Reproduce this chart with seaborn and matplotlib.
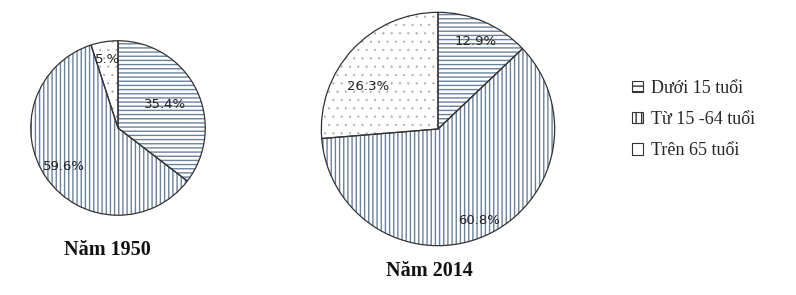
import numpy as np
import matplotlib
matplotlib.use("Agg")
import matplotlib.pyplot as plt
import matplotlib.patches as mpatches
import seaborn as sns

sns.set_theme(style="white")
plt.rcParams['font.family'] = ['DejaVu Sans']
plt.rcParams['hatch.linewidth'] = 1.0

categories = ["Dưới 15 tuổi", "Từ 15 -64 tuổi", "Trên 65 tuổi"]
values_1950 = [35.4, 59.6, 5.0]
values_2014 = [12.9, 60.8, 26.3]
labels_1950 = ["35.4%", "59.6%", "5.%"]
labels_2014 = ["12.9%", "60.8%", "26.3%"]
titles = ["Năm 1950", "Năm 2014"]

hatches = ['----', '||||', '..']
hatch_colors = ['#6a819e', '#6a819e', '#a8a8a8']
hatch_lws = [1.0, 1.0, 0.3]
label_r_1950 = [0.6, 0.76, 0.8]
label_off_1950 = [0, 0, 0]
label_r_2014 = [0.82, 0.86, 0.7]
label_off_2014 = [0, 0, 11]

fig = plt.figure(figsize=(7.96, 2.95), dpi=100)
W, H = 796, 295

def pie_axes(cx, cy, r):
    return fig.add_axes([(cx - r) / W, (H - cy - r) / H, 2 * r / W, 2 * r / H])

def draw_pie(ax, vals, labels, lr, loff):
    wedges, _ = ax.pie(vals, startangle=90, counterclock=False,
                       colors=['white'] * 3, radius=1.0,
                       wedgeprops=dict(linewidth=0))
    for w, h, c, hl in zip(wedges, hatches, hatch_colors, hatch_lws):
        w.set_hatch(h)
        w.set_edgecolor(c)
        w.set_linewidth(0)
        if hasattr(w, 'set_hatch_linewidth'):
            w.set_hatch_linewidth(hl)
    ax.pie(vals, startangle=90, counterclock=False, radius=1.0,
           wedgeprops=dict(fill=False, edgecolor='#333333', linewidth=0.9))
    for w, lab, r, o in zip(wedges, labels, lr, loff):
        ang = np.deg2rad((w.theta1 + w.theta2) / 2 + o)
        ax.text(r * np.cos(ang), r * np.sin(ang), lab, ha='center', va='center',
                fontsize=9.5, color='#222222')
    ax.set_xlim(-1.02, 1.02)
    ax.set_ylim(-1.02, 1.02)
    ax.set_aspect('equal')
    ax.axis('off')

ax1 = pie_axes(118, 128, 89)
draw_pie(ax1, values_1950, labels_1950, label_r_1950, label_off_1950)
ax2 = pie_axes(438, 129, 119)
draw_pie(ax2, values_2014, labels_2014, label_r_2014, label_off_2014)

fig.text(107 / W, 1 - 250 / H, titles[0], ha='center', va='center',
         fontsize=14.5, fontweight='bold', family='Liberation Serif', color='#111111')
fig.text(429 / W, 1 - 271 / H, titles[1], ha='center', va='center',
         fontsize=14.5, fontweight='bold', family='Liberation Serif', color='#111111')

handles = [mpatches.Patch(facecolor='white', edgecolor='#333333', hatch=h, linewidth=0.8)
           for h in ['---', '|||', '']]
leg = fig.legend(handles, categories, loc='upper left',
                 bbox_to_anchor=(632 / W, 1 - 80 / H), frameon=False,
                 prop={'family': 'Liberation Serif', 'size': 13},
                 handlelength=0.6, handleheight=0.6, handletextpad=0.45,
                 labelspacing=0.78, borderpad=0, borderaxespad=0)

fig.savefig("out.png", dpi=100)
